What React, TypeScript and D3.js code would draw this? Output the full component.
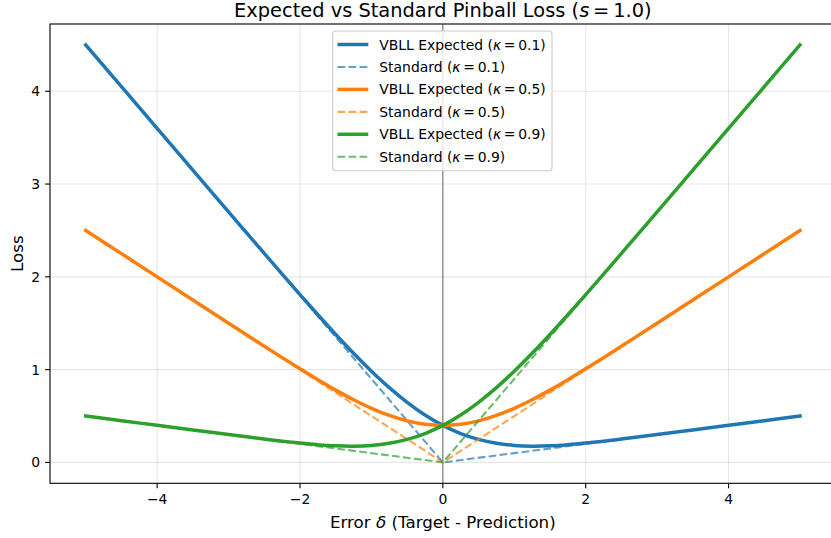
import React from "react";
import * as d3 from "d3";

const W = 831;
const H = 538;

// Error δ grid used for the expected-loss curves
const deltas = [
  -5, -4.5, -4, -3.5, -3, -2.75, -2.5, -2.25, -2, -1.75, -1.5, -1.25, -1, -0.75, -0.5, -0.25,
  0, 0.25, 0.5, 0.75, 1, 1.25, 1.5, 1.75, 2, 2.25, 2.5, 2.75, 3, 3.5, 4, 4.5, 5,
];

// VBLL expected pinball loss (s = 1.0)
const expected01 = [
  4.5, 4.05, 3.6, 3.1501, 2.7004, 2.4759, 2.252, 2.0292, 1.8085, 1.5912, 1.3793, 1.1756, 0.9833, 0.8062, 0.6478, 0.5113,
  0.3989, 0.3113, 0.2478, 0.2062, 0.1833, 0.1756, 0.1793, 0.1912, 0.2085, 0.2292, 0.252, 0.2759, 0.3004, 0.3501, 0.4, 0.45, 0.5,
];
const expected05 = [
  2.5, 2.25, 2.0, 1.7501, 1.5004, 1.3759, 1.252, 1.1292, 1.0085, 0.8912, 0.7793, 0.6756, 0.5833, 0.5062, 0.4478, 0.4113,
  0.3989, 0.4113, 0.4478, 0.5062, 0.5833, 0.6756, 0.7793, 0.8912, 1.0085, 1.1292, 1.252, 1.3759, 1.5004, 1.7501, 2.0, 2.25, 2.5,
];
const expected09 = [
  0.5, 0.45, 0.4, 0.3501, 0.3004, 0.2759, 0.252, 0.2292, 0.2085, 0.1912, 0.1793, 0.1756, 0.1833, 0.2062, 0.2478, 0.3113,
  0.3989, 0.5113, 0.6478, 0.8062, 0.9833, 1.1756, 1.3793, 1.5912, 1.8085, 2.0292, 2.252, 2.4759, 2.7004, 3.1501, 3.6, 4.05, 4.5,
];

// Standard pinball loss (piecewise linear)
const stdDeltas = [-5, 0, 5];
const standard01 = [4.5, 0, 0.5];
const standard05 = [2.5, 0, 2.5];
const standard09 = [0.5, 0, 4.5];

const kappas = ["0.1", "0.5", "0.9"];
const colors = ["#1f77b4", "#ff7f0e", "#2ca02c"];

const xTicks = [-4, -2, 0, 2, 4];
const yTicks = [0, 1, 2, 3, 4];

const series = [
  { kind: "exp", k: 0, xs: deltas, ys: expected01 },
  { kind: "std", k: 0, xs: stdDeltas, ys: standard01 },
  { kind: "exp", k: 1, xs: deltas, ys: expected05 },
  { kind: "std", k: 1, xs: stdDeltas, ys: standard05 },
  { kind: "exp", k: 2, xs: deltas, ys: expected09 },
  { kind: "std", k: 2, xs: stdDeltas, ys: standard09 },
];

const FONT = "DejaVu Sans, sans-serif";

export default function App() {
  const left = 50, right = 835.7, top = 24, bottom = 483.3;
  const x = d3.scaleLinear().domain([-5.5, 5.5]).range([left, right]);
  const y = d3.scaleLinear().domain([-0.225, 4.725]).range([bottom, top]);
  const fmt = d3.format("d");

  const lineGen = (xs: number[], ys: number[], smooth: boolean) =>
    d3
      .line<number>()
      .x((_, i) => x(xs[i]))
      .y((d) => y(d))
      .curve(smooth ? d3.curveCatmullRom.alpha(0.5) : d3.curveLinear)(ys) || "";

  const legX = 332.7, legY = 31, legW = 219.3, legH = 139.7;
  const rowY0 = 44.5, rowDy = 22.45;

  return (
    <svg
      width={W}
      height={H}
      style={{ position: "absolute", left: 0, top: 0, background: "#fff" }}
      fontFamily={FONT}
    >
      <defs>
        <clipPath id="plot">
          <rect x={left} y={top} width={right - left} height={bottom - top} />
        </clipPath>
      </defs>
      <rect x={0} y={0} width={W} height={H} fill="#fff" />
      {/* grid */}
      <g stroke="#b0b0b0" strokeOpacity={0.3} strokeWidth={1.1}>
        {xTicks.map((t) => (
          <line key={"gx" + t} x1={x(t)} x2={x(t)} y1={top} y2={bottom} />
        ))}
        {yTicks.map((t) => (
          <line key={"gy" + t} x1={left} x2={right} y1={y(t)} y2={y(t)} />
        ))}
      </g>
      {/* zero line */}
      <line x1={x(0)} x2={x(0)} y1={top} y2={bottom} stroke="#000" strokeOpacity={0.5} strokeWidth={1.1} />
      {/* series */}
      <g clipPath="url(#plot)" fill="none">
        {series.map((s, i) =>
          s.kind === "exp" ? (
            <path key={i} d={lineGen(s.xs, s.ys, true)} stroke={colors[s.k]} strokeWidth={3.5} strokeLinecap="square" />
          ) : (
            <path
              key={i}
              d={lineGen(s.xs, s.ys, false)}
              stroke={colors[s.k]}
              strokeOpacity={0.7}
              strokeWidth={2.08}
              strokeDasharray="7.7 3.33"
            />
          )
        )}
      </g>
      {/* spines */}
      <rect x={left} y={top} width={right - left} height={bottom - top} fill="none" stroke="#000" strokeWidth={1.1} />
      {/* ticks */}
      <g fontSize={13.9} fill="#000">
        {xTicks.map((t) => (
          <g key={"xt" + t}>
            <line x1={x(t)} x2={x(t)} y1={bottom} y2={bottom + 4.9} stroke="#000" strokeWidth={1.1} />
            <text x={x(t)} y={504.3} textAnchor="middle">
              {fmt(t)}
            </text>
          </g>
        ))}
        {yTicks.map((t) => (
          <g key={"yt" + t}>
            <line x1={left - 4.9} x2={left} y1={y(t)} y2={y(t)} stroke="#000" strokeWidth={1.1} />
            <text x={left - 9.8} y={y(t)} dy="0.36em" textAnchor="end">
              {fmt(t)}
            </text>
          </g>
        ))}
      </g>
      {/* axis labels */}
      <text x={(left + right) / 2} y={528.3} textAnchor="middle" fontSize={16.7}>
        Error <tspan fontStyle="italic">δ</tspan> (Target - Prediction)
      </text>
      <text
        transform={`translate(23.3, ${(top + bottom) / 2}) rotate(-90)`}
        textAnchor="middle"
        fontSize={16.7}
      >
        Loss
      </text>
      {/* title */}
      <text x={(left + right) / 2} y={17} textAnchor="middle" fontSize={19.4}>
        Expected vs Standard Pinball Loss (<tspan fontStyle="italic">s</tspan>
        {"\u2009=\u20091.0)"}
      </text>
      {/* legend */}
      <rect
        x={legX}
        y={legY}
        width={legW}
        height={legH}
        rx={3}
        fill="#fff"
        fillOpacity={0.8}
        stroke="#cccccc"
        strokeWidth={1.1}
      />
      {series.map((s, i) => {
        const ry = rowY0 + i * rowDy;
        return (
          <g key={"lg" + i}>
            {s.kind === "exp" ? (
              <line x1={337.5} x2={368.3} y1={ry} y2={ry} stroke={colors[s.k]} strokeWidth={3.5} />
            ) : (
              <line
                x1={337.5}
                x2={368.3}
                y1={ry}
                y2={ry}
                stroke={colors[s.k]}
                strokeOpacity={0.7}
                strokeWidth={2.08}
                strokeDasharray="7.7 3.33"
              />
            )}
            <text x={379.3} y={ry} dy="0.36em" fontSize={13.9}>
              {s.kind === "exp" ? "VBLL Expected (" : "Standard ("}
              <tspan fontStyle="italic">κ</tspan>
              {"\u2009=\u2009" + kappas[s.k] + ")"}
            </text>
          </g>
        );
      })}
    </svg>
  );
}
